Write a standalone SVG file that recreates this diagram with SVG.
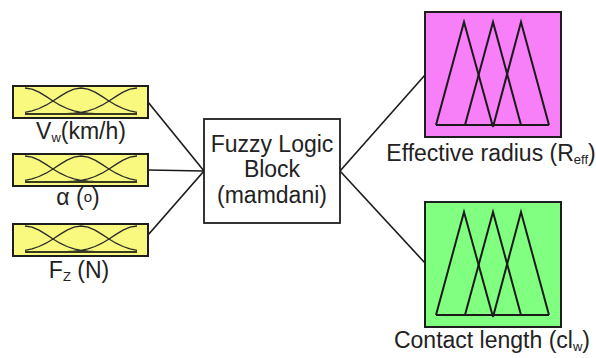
<svg xmlns="http://www.w3.org/2000/svg" xmlns:xlink="http://www.w3.org/1999/xlink" width="596" height="358" viewBox="0 0 596 358">
  <style>
    .lbl { font-family: "Liberation Sans", Arial, sans-serif; font-size: 23px; fill: #222; }
    .sub { font-size: 13px; }
    .in { fill: #f9f97f; stroke: #1e1e1e; stroke-width: 2; }
    .fis { fill: #ffffff; stroke: #1e1e1e; stroke-width: 1.8; }
    .out-r { fill: #f77ff7; stroke: #1e1e1e; stroke-width: 2; }
    .out-c { fill: #80ff80; stroke: #1e1e1e; stroke-width: 2; }
    .mf { fill: none; stroke: #2a2a2a; stroke-width: 1.3; stroke-linejoin: round; }
    .mfbase { fill: none; stroke: #3a3a20; stroke-width: 2; }
    .tri { fill: none; stroke: #1a1a1a; stroke-width: 2; stroke-linejoin: miter; }
    .wire { fill: none; stroke: #1a1a1a; stroke-width: 1.6; }
  </style>
  <defs>
    <!-- three gaussian membership functions, local box coords -->
    <g id="gauss3">
      <polyline class="mf" points="12,2 19,3.1 26,6.1 33,10.4 40,15 47,19.2 54,22.5 61,24.9 68,26.4 75,27.2 82,27.7 96,27.9 124,28"/>
      <polyline class="mf" points="12,26.4 19,24.9 26,22.5 33,19.2 40,15 47,10.4 54,6.1 61,3.1 68,2 75,3.1 82,6.1 89,10.4 96,15 103,19.2 110,22.5 117,24.9 124,26.4"/>
      <polyline class="mf" points="12,28 40,27.9 54,27.7 61,27.2 68,26.4 75,24.9 82,22.5 89,19.2 96,15 103,10.4 110,6.1 117,3.1 124,2"/>
      <line class="mfbase" x1="12" y1="28" x2="124" y2="28"/>
    </g>
    <!-- three triangular membership functions, local box coords -->
    <g id="tri3">
      <polyline class="tri" points="11,113 39,10 68,115"/>
      <polyline class="tri" points="40,113 68,10 96,113"/>
      <polyline class="tri" points="68,115 96,10 124,113"/>
      <line class="tri" x1="11" y1="113" x2="124" y2="113"/>
    </g>
  </defs>

  <g id="connectors">
    <line class="wire" x1="148" y1="102" x2="204" y2="171"/>
    <line class="wire" x1="148" y1="170" x2="204" y2="171"/>
    <line class="wire" x1="148" y1="235" x2="204" y2="171"/>
    <line class="wire" x1="340" y1="171" x2="425" y2="75"/>
    <line class="wire" x1="340" y1="171" x2="425" y2="263"/>
  </g>

  <g id="input-vw">
    <rect class="in" x="13" y="86" width="135" height="32"/>
    <use xlink:href="#gauss3" x="13" y="86"/>
    <text class="lbl" x="81" y="139" text-anchor="middle">V<tspan class="sub" dy="3">w</tspan><tspan dy="-3">(km/h)</tspan></text>
  </g>

  <g id="input-alpha">
    <rect class="in" x="13" y="154" width="135" height="32"/>
    <use xlink:href="#gauss3" x="13" y="154"/>
    <text class="lbl" x="78" y="205" text-anchor="middle">α (<tspan font-size="15px" dy="-3">o</tspan><tspan dy="3">)</tspan></text>
  </g>

  <g id="input-fz">
    <rect class="in" x="13" y="224" width="135" height="32"/>
    <use xlink:href="#gauss3" x="13" y="224"/>
    <text class="lbl" x="79" y="278" text-anchor="middle">F<tspan class="sub" dy="3">Z</tspan><tspan dy="-3"> (N)</tspan></text>
  </g>

  <g id="fuzzy-block">
    <rect class="fis" x="204" y="119" width="136" height="104"/>
    <text class="lbl" x="272" y="152" text-anchor="middle">Fuzzy Logic</text>
    <text class="lbl" x="272" y="177" text-anchor="middle">Block</text>
    <text class="lbl" x="272" y="203" text-anchor="middle">(mamdani)</text>
  </g>

  <g id="output-reff">
    <rect class="out-r" x="425" y="12" width="136" height="125"/>
    <use xlink:href="#tri3" x="425" y="12"/>
    <text class="lbl" x="491" y="161" text-anchor="middle">Effective radius (R<tspan class="sub" dy="3">eff</tspan><tspan dy="-3">)</tspan></text>
  </g>

  <g id="output-clw">
    <rect class="out-c" x="425" y="202" width="136" height="125"/>
    <use xlink:href="#tri3" x="425" y="202"/>
    <text class="lbl" x="492" y="348" text-anchor="middle">Contact length (cl<tspan class="sub" dy="3">w</tspan><tspan dy="-3">)</tspan></text>
  </g>
</svg>
